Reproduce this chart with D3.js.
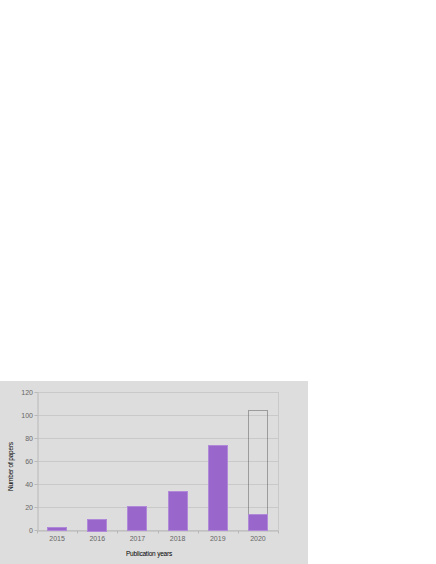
<html>
<head>
  <script src="https://d3js.org/d3.v7.min.js"></script>
  <style>
    body { margin: 0; background: #ffffff; }
    .axisGray text { fill: #666666; font-family: 'Liberation Sans', Arial, sans-serif; font-size: 7px; }
    .axisGray line, .axisGray path { stroke: #b8b8b8; }
  </style>
</head>
<body>
<div id="my_dataviz"></div>
<script type="text/javascript">

  // data
  var years = ["2015", "2016", "2017", "2018", "2019", "2020"];
  var papers = [3, 10, 21, 34, 74, 14];
  var projected = [null, null, null, null, null, 104];   // dotted box for 2020
  var yTicks = [0, 20, 40, 60, 80, 100, 120];

  var W = 436, H = 564;
  var margin = { top: 392, left: 37, width: 241, height: 138 };

  var svg = d3.select("#my_dataviz")
    .append("svg")
    .attr("width", W)
    .attr("height", H);

  // gray panel
  svg.append("rect")
    .attr("x", 0).attr("y", 381)
    .attr("width", 308).attr("height", H - 381)
    .style("fill", "#dddddd");

  var g = svg.append("g")
    .attr("transform", "translate(" + margin.left + "," + margin.top + ")");

  var x = d3.scaleBand()
    .domain(years)
    .range([0, margin.width])
    .paddingInner(0.5)
    .paddingOuter(0.25);

  var y = d3.scaleLinear()
    .domain([0, 120])
    .range([margin.height, 0]);

  // gridlines
  g.append("g")
    .selectAll("line")
    .data(yTicks)
    .enter()
    .append("line")
    .attr("x1", 0).attr("x2", margin.width)
    .attr("y1", function (d) { return y(d) + 0.5; })
    .attr("y2", function (d) { return y(d) + 0.5; })
    .style("stroke", "#c9c9c9")
    .style("stroke-width", 1);

  // right border
  g.append("line")
    .attr("x1", margin.width + 0.5).attr("x2", margin.width + 0.5)
    .attr("y1", 0).attr("y2", margin.height)
    .style("stroke", "#c9c9c9");

  // y axis
  g.append("g")
    .attr("class", "axisGray")
    .attr("transform", "translate(0.5,0)")
    .call(d3.axisLeft(y).tickValues(yTicks).tickSize(3).tickSizeOuter(0).tickPadding(1.5));

  // x axis, ticks between categories
  var xAxis = g.append("g")
    .attr("class", "axisGray")
    .attr("transform", "translate(0," + (margin.height + 0.5) + ")")
    .call(d3.axisBottom(x).tickSize(0).tickPadding(6));
  xAxis.selectAll(".sep")
    .data(d3.range(years.length + 1))
    .enter()
    .append("line")
    .attr("class", "sep")
    .attr("x1", function (i) { return Math.round(i * x.step()) + 0.5; })
    .attr("x2", function (i) { return Math.round(i * x.step()) + 0.5; })
    .attr("y1", 0).attr("y2", 3)
    .style("stroke", "#b8b8b8");

  // projected dotted box
  g.append("g")
    .selectAll("rect")
    .data(years.map(function (d, i) { return { year: d, v: projected[i] }; }).filter(function (d) { return d.v != null; }))
    .enter()
    .append("rect")
    .attr("x", function (d) { return Math.round(x(d.year)) + 0.5; })
    .attr("y", function (d) { return Math.round(y(d.v)) + 0.5; })
    .attr("width", Math.round(x.bandwidth()) - 1)
    .attr("height", function (d) { return Math.round(y(0) - y(d.v)); })
    .style("fill", "none")
    .style("stroke", "#5a5a5a")
    .style("stroke-width", 1)
    .style("stroke-dasharray", "1,1");

  // bars
  g.append("g")
    .selectAll("rect")
    .data(years.map(function (d, i) { return { year: d, v: papers[i] }; }))
    .enter()
    .append("rect")
    .attr("x", function (d) { return Math.round(x(d.year)) + 0.5; })
    .attr("y", function (d) { return Math.round(y(d.v)) + 0.5; })
    .attr("width", Math.round(x.bandwidth()) - 1)
    .attr("height", function (d) { return Math.round(y(0) - y(d.v)); })
    .style("fill", "#9966cc")
    .style("stroke", "#b08ad8")
    .style("stroke-width", 1);

  // axis titles
  svg.append("text")
    .attr("x", 149)
    .attr("y", 555.5)
    .style("text-anchor", "middle")
    .style("font-family", "'Liberation Sans', Arial, sans-serif")
    .style("font-size", "6.5px")
    .style("letter-spacing", "-0.2px")
    .style("fill", "#000000")
    .text("Publication years");

  svg.append("text")
    .attr("transform", "translate(12.5,466.5) rotate(-90)")
    .style("text-anchor", "middle")
    .style("font-family", "'Liberation Sans', Arial, sans-serif")
    .style("font-size", "6.5px")
    .style("letter-spacing", "-0.2px")
    .style("fill", "#000000")
    .text("Number of papers");

</script>
</body>
</html>
